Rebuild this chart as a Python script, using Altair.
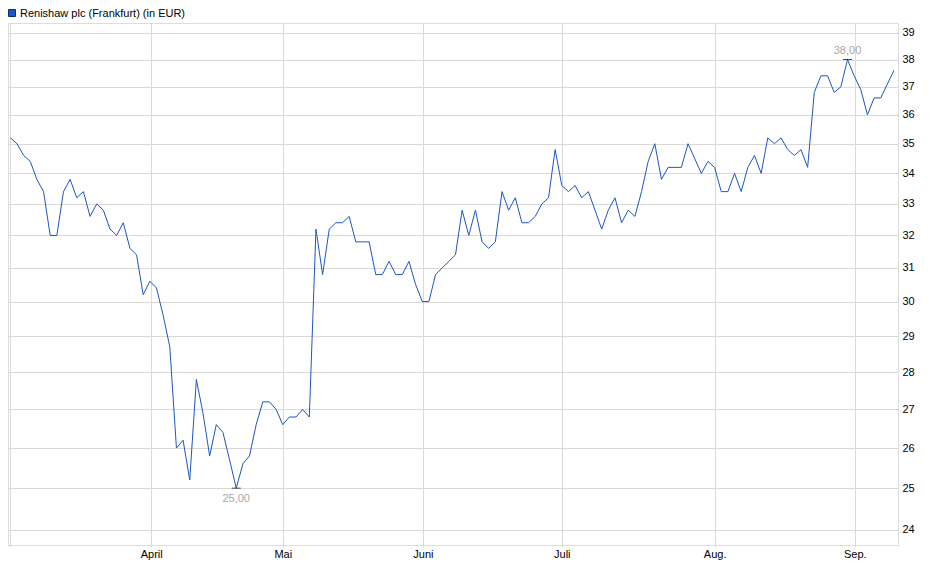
import altair as alt
import pandas as pd

# Daily closing prices (trading-day index 0..133)
prices = [35.2, 35.0, 34.6, 34.4, 33.8, 33.4, 32.0, 32.0, 33.4, 33.8,
          33.2, 33.4, 32.6, 33.0, 32.8, 32.2, 32.0, 32.4, 31.6, 31.4,
          30.2, 30.6, 30.4, 29.6, 28.7, 26.0, 26.2, 25.2, 27.8, 26.9,
          25.8, 26.6, 26.4, 25.7, 25.0, 25.6, 25.8, 26.6, 27.2, 27.2,
          27.0, 26.6, 26.8, 26.8, 27.0, 26.8, 32.2, 30.8, 32.2, 32.4,
          32.4, 32.6, 31.8, 31.8, 31.8, 30.8, 30.8, 31.2, 30.8, 30.8,
          31.2, 30.5, 30.0, 30.0, 30.8, 31.0, 31.2, 31.4, 32.8, 32.0,
          32.8, 31.8, 31.6, 31.8, 33.4, 32.8, 33.2, 32.4, 32.4, 32.6,
          33.0, 33.2, 34.8, 33.6, 33.4, 33.6, 33.2, 33.4, 32.8, 32.2,
          32.8, 33.2, 32.4, 32.8, 32.6, 33.4, 34.4, 35.0, 33.8, 34.2,
          34.2, 34.2, 35.0, 34.5, 34.0, 34.4, 34.2, 33.4, 33.4, 34.0,
          33.4, 34.2, 34.6, 34.0, 35.2, 35.0, 35.2, 34.8, 34.6, 34.8,
          34.2, 36.8, 37.4, 37.4, 36.8, 37.0, 38.0, 37.4, 36.9, 36.0,
          36.6, 36.6, 37.1, 37.6]

# Month boundaries (trading-day index) and labels
month_pos = [0, 21.2, 41, 62.1, 83, 106, 127.1]
month_labels = ["", "April", "Mai", "Juni", "Juli", "Aug.", "Sep."]

y_ticks = list(range(24, 40))
series_name = "Renishaw plc (Frankfurt) (in EUR)"

BLUE = "#1c55c6"
GRID = "#d9d9d9"
FONT = "Liberation Sans"

df = pd.DataFrame({"t": list(range(len(prices))), "price": prices})
imax = int(df["price"].idxmax())
imin = int(df["price"].idxmin())
hi = pd.DataFrame({"t": [imax], "price": [prices[imax]],
                   "lab": [f"{prices[imax]:.2f}".replace(".", ",")]})
lo = pd.DataFrame({"t": [imin], "price": [prices[imin]],
                   "lab": [f"{prices[imin]:.2f}".replace(".", ",")]})
ext = pd.concat([hi, lo])
leg = pd.DataFrame({"name": [series_name]})

label_expr = " : ".join(
    f"datum.value == {p} ? '{l}'" for p, l in zip(month_pos, month_labels)
) + " : ''"

x_scale = alt.Scale(domain=[-0.35, 133.6], nice=False, zero=False)
y_scale = alt.Scale(type="log", domain=[23.65, 39.38], nice=False)

x_axis = alt.Axis(values=month_pos, labelExpr=label_expr, grid=True,
                  gridColor=GRID, tickColor=GRID, tickSize=2,
                  domain=False, labelFontSize=11, labelColor="#000",
                  labelPadding=1, title=None, labelFlush=False,
                  labelOverlap=False, labelFont=FONT)
y_axis = alt.Axis(orient="right", values=y_ticks, format="d",
                  grid=True, gridColor=GRID, ticks=False,
                  domain=False, labelPadding=4, labelFontSize=11,
                  labelColor="#000", title=None, labelFlush=False,
                  labelOverlap=False, labelFont=FONT)

X = alt.X("t:Q", scale=x_scale, axis=x_axis)
Y = alt.Y("price:Q", scale=y_scale, axis=y_axis)

line = alt.Chart(df).mark_line(color=BLUE, strokeWidth=1).encode(x=X, y=Y)

ticks = alt.Chart(ext).mark_tick(orient="horizontal", size=9, thickness=1,
                                 color="#000").encode(x=X, y=Y)

hi_text = alt.Chart(hi).mark_text(dy=-9, fontSize=11, color="#a8a8a8",
                                  font=FONT).encode(x=X, y=Y, text="lab:N")
lo_text = alt.Chart(lo).mark_text(dy=11, fontSize=11, color="#a8a8a8",
                                  font=FONT).encode(x=X, y=Y, text="lab:N")

leg_sq = alt.Chart(leg).mark_square(size=49, color=BLUE, opacity=1,
                                    stroke="#0e2f78", strokeWidth=1).encode(
    x=alt.value(4), y=alt.value(-10))
leg_tx = alt.Chart(leg).mark_text(align="left", baseline="alphabetic",
                                  fontSize=11, color="#000", font=FONT).encode(
    x=alt.value(12), y=alt.value(-6), text="name:N")

chart = alt.layer(line, ticks, hi_text, lo_text, leg_sq, leg_tx).properties(
    width=890, height=522,
    autosize=alt.AutoSizeParams(type="none"),
    padding={"left": 0, "top": 15, "right": 32, "bottom": 26},
    background="white",
).configure_view(stroke=GRID, strokeWidth=1).configure(font=FONT)

chart.save("out.html", embed_options={"renderer": "svg", "actions": False})
